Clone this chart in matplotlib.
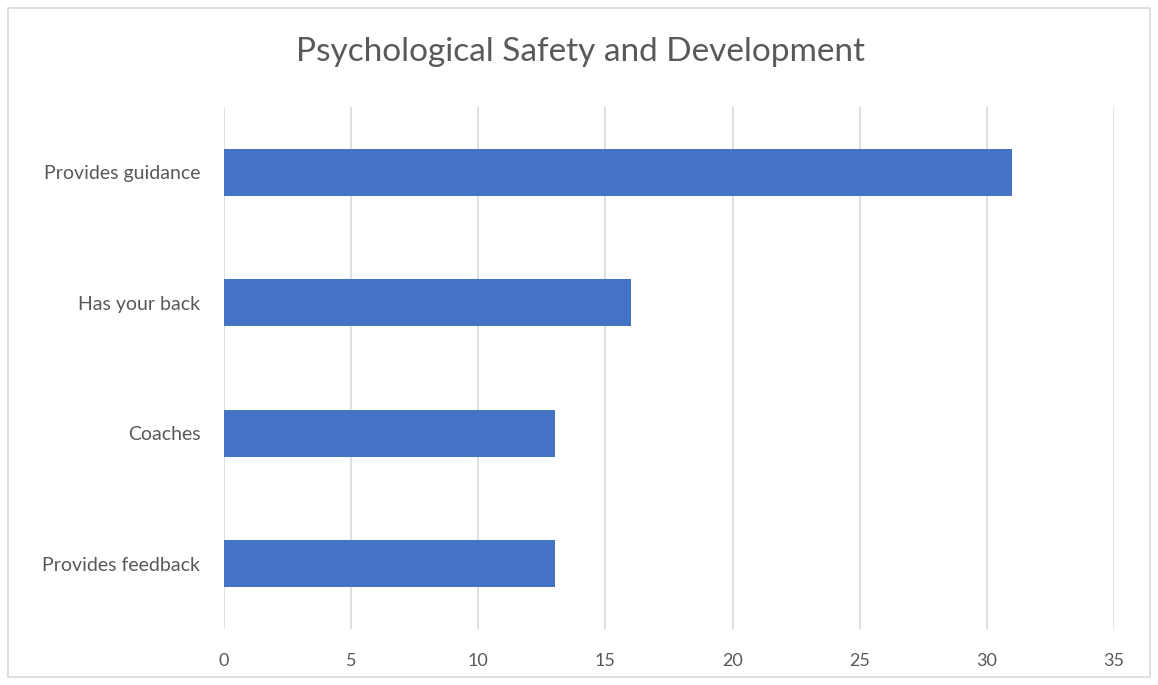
import matplotlib.pyplot as plt
from matplotlib.patches import Rectangle

# survey counts, top to bottom as shown
categories = ['Provides guidance', 'Has your back', 'Coaches', 'Provides feedback']
counts = [31, 16, 13, 13]
xticks = [0, 5, 10, 15, 20, 25, 30, 35]

plt.rcParams['font.family'] = ['Lato', 'DejaVu Sans']
text_col = '#595959'
grid_col = '#d9d9d9'

fig = plt.figure(figsize=(11.58, 6.85), dpi=100)
ax = fig.add_axes([224 / 1158, 56 / 685, 890 / 1158, 522 / 685])

pos = list(range(len(categories)))
ax.barh(pos, counts, height=0.36, color='#4472c4', zorder=3)

ax.set_xlim(0, 35)
ax.set_ylim(len(categories) - 0.5, -0.5)
ax.set_xticks(xticks)
ax.set_xticklabels([str(t) for t in xticks])
ax.set_yticks(pos)
ax.set_yticklabels(categories)
ax.tick_params(axis='both', length=0, colors=text_col)
ax.tick_params(axis='x', pad=17, labelsize=13)
ax.tick_params(axis='y', pad=17, labelsize=14)
ax.xaxis.grid(True, color=grid_col, linewidth=1.2, zorder=0)
for s in ax.spines.values():
    s.set_visible(False)

fig.text(580 / 1158, 1 - 52 / 685, 'Psychological Safety and Development',
         ha='center', va='center', fontsize=24, color=text_col)

# thin frame around the whole chart
fig.patches.append(Rectangle((8 / 1158, 8 / 685), 1142 / 1158, 669 / 685,
                             transform=fig.transFigure, fill=False,
                             edgecolor='#d9d9d9', linewidth=1.2))

fig.savefig('out.png', dpi=100)
